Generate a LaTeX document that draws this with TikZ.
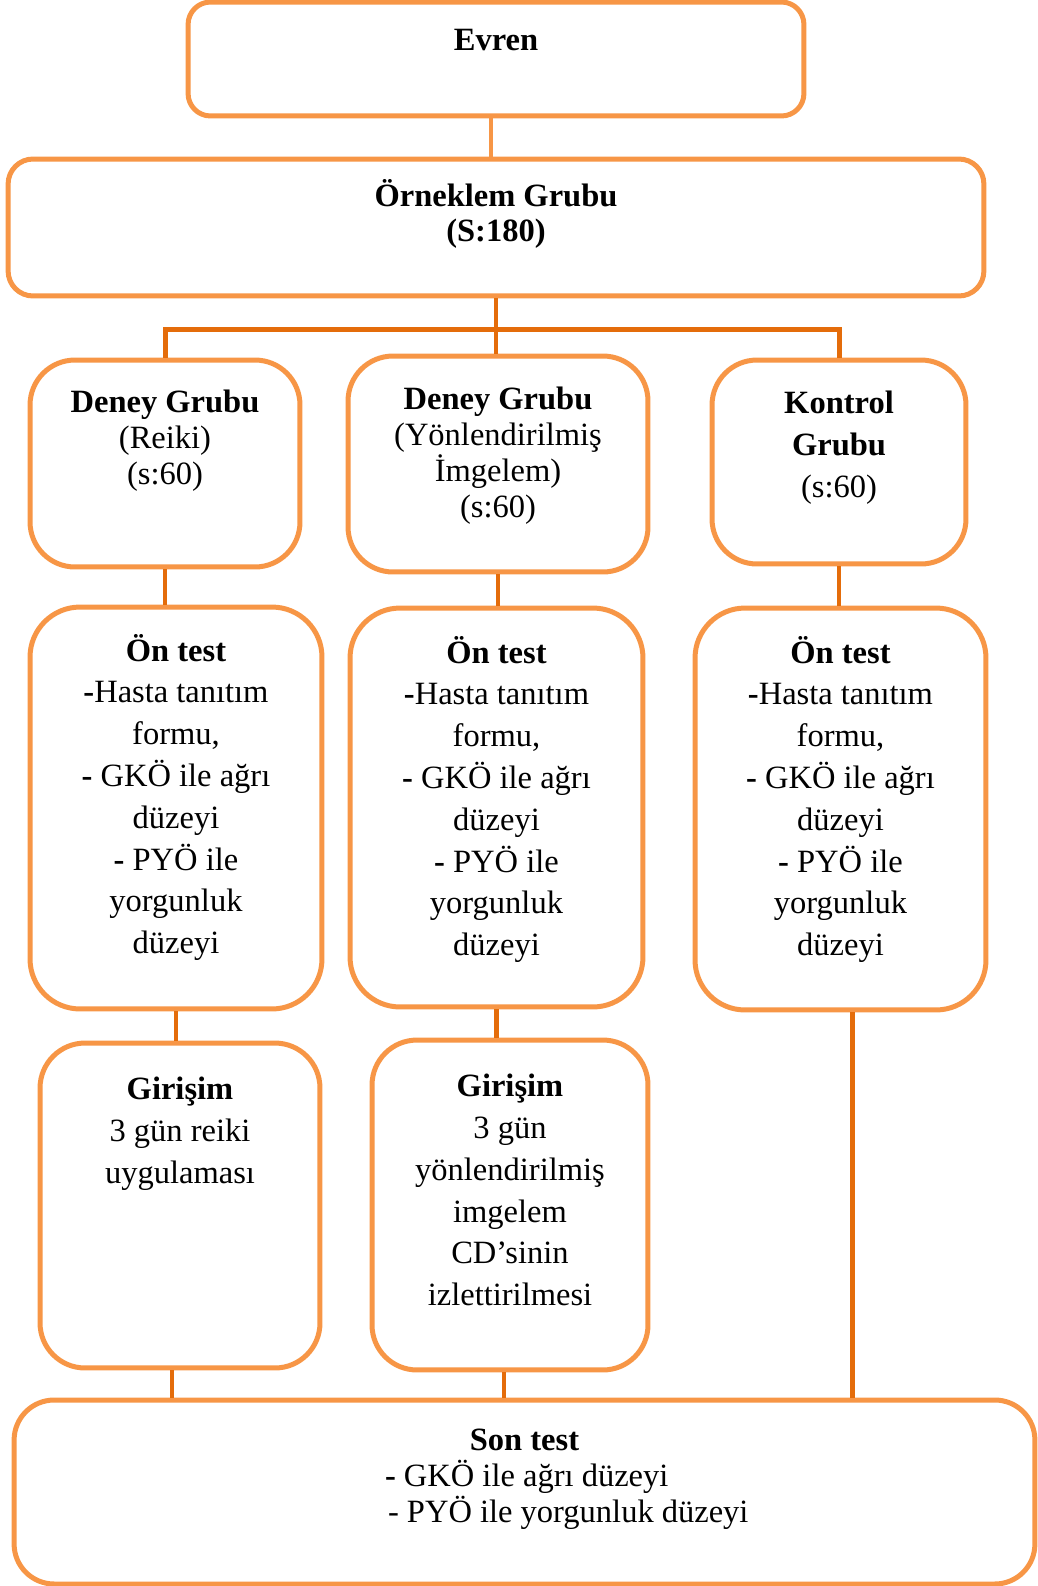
\documentclass[tikz,border=0pt]{standalone}
\usepackage{fontspec}
\setmainfont{Liberation Serif}
\usetikzlibrary{calc}
\definecolor{boxorange}{HTML}{F79646}
\definecolor{lineorange}{HTML}{E46C0A}
\newcommand{\stagetext}[4]{\parbox[c][#2][t]{#1}{\vspace*{#3}\centering #4}}
\newcommand{\ontest}{\textbf{Ön test}\\\textbf{-}Hasta tanıtım\\formu,\\\textbf{-} GKÖ ile ağrı\\düzeyi\\\textbf{-} PYÖ ile\\yorgunluk\\düzeyi}

\begin{document}
\begin{tikzpicture}[x=0.02cm, y=-0.02cm,
    stagebox/.style={draw=boxorange, line width=1mm, rounded corners=#1, inner sep=0pt, fill=white},
    stagebox/.default=0.9cm,
    link/.style={draw=lineorange, line width=0.9mm},
    tight/.style={font=\fontsize{18.5}{20.4}\selectfont},
    loose/.style={font=\fontsize{18.5}{23.8}\selectfont}]
    \useasboundingbox (0,0) rectangle (1038,1586);

    \node[stagebox=0.45cm, tight] (evren) at (496,59) {\stagetext{12.32cm}{2.28cm}{0.55cm}{\textbf{Evren}}};
    \node[stagebox=0.5cm, tight] (orneklem) at (496,227.5) {\stagetext{19.52cm}{2.74cm}{0.4cm}{\textbf{Örneklem Grubu}\\\textbf{(S:180)}}};

    \node[stagebox, tight] (reiki) at (165,463.5) {\stagetext{5.4cm}{4.14cm}{0.6cm}{\textbf{Deney Grubu}\\(Reiki)\\(s:60)}};
    \node[stagebox, tight] (imgelem) at (498,464) {\stagetext{6cm}{4.32cm}{0.62cm}{\textbf{Deney Grubu}\\(Yönlendirilmiş\\İmgelem)\\(s:60)}};
    \node[stagebox, loose] (kontrol) at (839,462) {\stagetext{5.08cm}{4.08cm}{0.62cm}{\textbf{Kontrol}\\\textbf{Grubu}\\(s:60)}};

    \node[stagebox=1cm, loose] (on1) at (176,808) {\stagetext{5.84cm}{8.04cm}{0.54cm}{\ontest}};
    \node[stagebox=1cm, loose] (on2) at (496.5,807.5) {\stagetext{5.86cm}{7.98cm}{0.56cm}{\ontest}};
    \node[stagebox=1cm, loose] (on3) at (840.5,809) {\stagetext{5.82cm}{8.04cm}{0.56cm}{\ontest}};

    \node[stagebox, loose] (gir1) at (180,1205.5) {\stagetext{5.6cm}{6.5cm}{0.68cm}{\textbf{Girişim}\\3 gün reiki\\uygulaması}};
    \node[stagebox, loose] (gir2) at (510,1205) {\stagetext{5.52cm}{6.6cm}{0.68cm}{\textbf{Girişim}\\3 gün\\yönlendirilmiş\\imgelem\\CD’sinin\\izlettirilmesi}};

    \node[stagebox=0.8cm, tight] (son) at (524.5,1492) {\stagetext{20.42cm}{3.68cm}{0.58cm}{\textbf{Son test}\\
        \makebox[20.42cm][l]{\hspace*{7.42cm}\textbf{-} GKÖ ile ağrı düzeyi}\\
        \makebox[20.42cm][l]{\hspace*{7.48cm}- PYÖ ile yorgunluk düzeyi}}};

    \coordinate (evrenfoot) at ($(evren.south)+(-5,0)$);
    \draw[draw=boxorange, line width=0.8mm] (evrenfoot) -- (evrenfoot |- orneklem.north);
    \coordinate (bus) at (161,329);
    \draw[link] (orneklem.south) -- (orneklem.south |- imgelem.north);
    \draw[link, line width=1mm] (reiki.north) -- (reiki.north |- bus) -- (kontrol.north |- bus) -- (kontrol.north);

    \draw[link] (reiki.south) -- (reiki.south |- on1.north);
    \draw[link] (imgelem.south) -- (imgelem.south |- on2.north);
    \draw[link] (kontrol.south) -- (kontrol.south |- on3.north);

    \draw[link] (on1.south) -- (on1.south |- gir1.north);
    \draw[link] (on2.south) -- (on2.south |- gir2.north);
    \coordinate (on3foot) at ($(on3.south)+(12,0)$);
    \draw[link] (on3foot) -- (on3foot |- son.north);

    \coordinate (gir1foot) at ($(gir1.south)+(-8,0)$);
    \coordinate (gir2foot) at ($(gir2.south)+(-6,0)$);
    \draw[link] (gir1foot) -- (gir1foot |- son.north);
    \draw[link] (gir2foot) -- (gir2foot |- son.north);
\end{tikzpicture}
\end{document}
